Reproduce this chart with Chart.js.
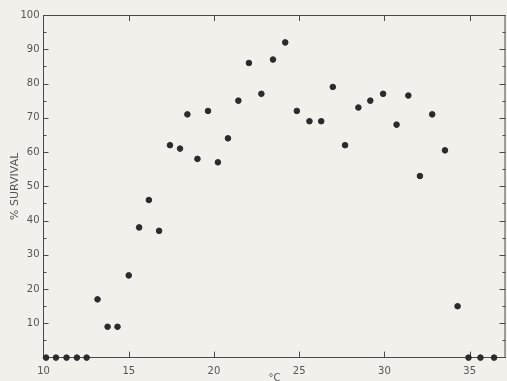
<!DOCTYPE html>
<html>
<head>
<meta charset="utf-8">
<script src="https://cdn.jsdelivr.net/npm/chart.js@4/dist/chart.umd.min.js"></script>
<style>
  html, body { margin: 0; padding: 0; background: #f1f0ea; }
  #wrap { width: 507px; height: 381px; }
</style>
</head>
<body>
<div id="wrap"><canvas id="c" width="507" height="381"></canvas></div>
<script>
// temperature (°C) and % survival
const temps = [10.15, 10.73, 11.35, 11.96, 12.53, 13.17, 13.76, 14.34, 15.0, 15.61,
  16.18, 16.78, 17.42, 18.01, 18.44, 19.03, 19.65, 20.23, 20.82, 21.43,
  22.05, 22.78, 23.46, 24.18, 24.86, 25.6, 26.29, 26.97, 27.69, 28.47,
  29.17, 29.92, 30.71, 31.4, 32.08, 32.8, 33.55, 34.29, 34.93, 35.63, 36.43];
const survival = [0, 0, 0, 0, 0, 17, 9, 9, 24, 38,
  46, 37, 62, 61, 71, 58, 72, 57, 64, 75,
  86, 77, 87, 92, 72, 69, 69, 79, 62, 73,
  75, 77, 68, 76.5, 53, 71, 60.5, 15, 0, 0, 0];

const xTicks = [10, 15, 20, 25, 30, 35];
const yTicks = [10, 20, 30, 40, 50, 60, 70, 80, 90, 100];
const yMinorTicks = [5, 15, 25, 35, 45, 55, 65, 75, 85, 95];

const INK = '#2b2b2b';
const AXIS = '#4a4a4a';
const LABEL = '#555';

// inward tick marks on all four sides + top/right frame
const frameTicks = {
  id: 'frameTicks',
  beforeDatasetsDraw(chart) {
    const { ctx, chartArea: a, scales: { x, y } } = chart;
    ctx.save();
    ctx.strokeStyle = AXIS;
    ctx.lineWidth = 1;
    ctx.beginPath();
    ctx.moveTo(a.left, a.top + 0.5);
    ctx.lineTo(a.right, a.top + 0.5);
    ctx.moveTo(a.right - 0.5, a.top);
    ctx.lineTo(a.right - 0.5, a.bottom);
    xTicks.slice(1).forEach(v => {
      const px = Math.round(x.getPixelForValue(v)) + 0.5;
      ctx.moveTo(px, a.top); ctx.lineTo(px, a.top + 6);
      ctx.moveTo(px, a.bottom); ctx.lineTo(px, a.bottom - 6);
    });
    yTicks.forEach(v => {
      const py = Math.round(y.getPixelForValue(v)) + 0.5;
      ctx.moveTo(a.left, py); ctx.lineTo(a.left + 5, py);
      ctx.moveTo(a.right, py); ctx.lineTo(a.right - 6, py);
    });
    yMinorTicks.forEach(v => {
      const py = Math.round(y.getPixelForValue(v)) + 0.5;
      ctx.moveTo(a.left, py); ctx.lineTo(a.left + 3, py);
      ctx.moveTo(a.right, py); ctx.lineTo(a.right - 3, py);
    });
    ctx.stroke();
    ctx.restore();
  }
};

new Chart(document.getElementById('c'), {
  type: 'scatter',
  data: {
    datasets: [{
      data: temps.map((t, i) => ({ x: t, y: survival[i] })),
      backgroundColor: INK,
      borderColor: INK,
      pointRadius: 2.8,
      pointHoverRadius: 2.8,
      clip: false
    }]
  },
  options: {
    responsive: false,
    animation: false,
    events: [],
    layout: { autoPadding: false, padding: { top: 15, right: 1.5, left: 8.5, bottom: 0 } },
    plugins: {
      legend: { display: false },
      tooltip: { enabled: false }
    },
    scales: {
      x: {
        type: 'linear',
        min: 10,
        max: 37.1,
        afterBuildTicks: s => { s.ticks = xTicks.map(v => ({ value: v })); },
        afterFit: s => { s.height = 23.4; s.paddingLeft = 0; s.paddingRight = 0; },
        grid: { drawOnChartArea: false, drawTicks: false },
        border: { display: true, color: AXIS, width: 1 },
        ticks: {
          padding: 8,
          color: LABEL,
          maxRotation: 0,
          font: { family: 'DejaVu Sans', size: 10 }
        },
        title: {
          display: true,
          text: '°C',
          color: LABEL,
          padding: { top: 0, bottom: 0 },
          font: { family: 'DejaVu Sans', size: 10, lineHeight: 0.5 }
        }
      },
      y: {
        min: 0,
        max: 100,
        afterBuildTicks: s => { s.ticks = yTicks.map(v => ({ value: v })); },
        afterFit: s => { s.width = 35; },
        grid: { drawOnChartArea: false, drawTicks: false },
        border: { display: true, color: AXIS, width: 1 },
        ticks: {
          padding: 4,
          color: LABEL,
          font: { family: 'DejaVu Sans', size: 10 }
        },
        title: {
          display: true,
          text: '% SURVIVAL',
          color: LABEL,
          padding: { top: 0, bottom: 0 },
          font: { family: 'DejaVu Sans', size: 11 }
        }
      }
    }
  },
  plugins: [frameTicks]
});
</script>
</body>
</html>
